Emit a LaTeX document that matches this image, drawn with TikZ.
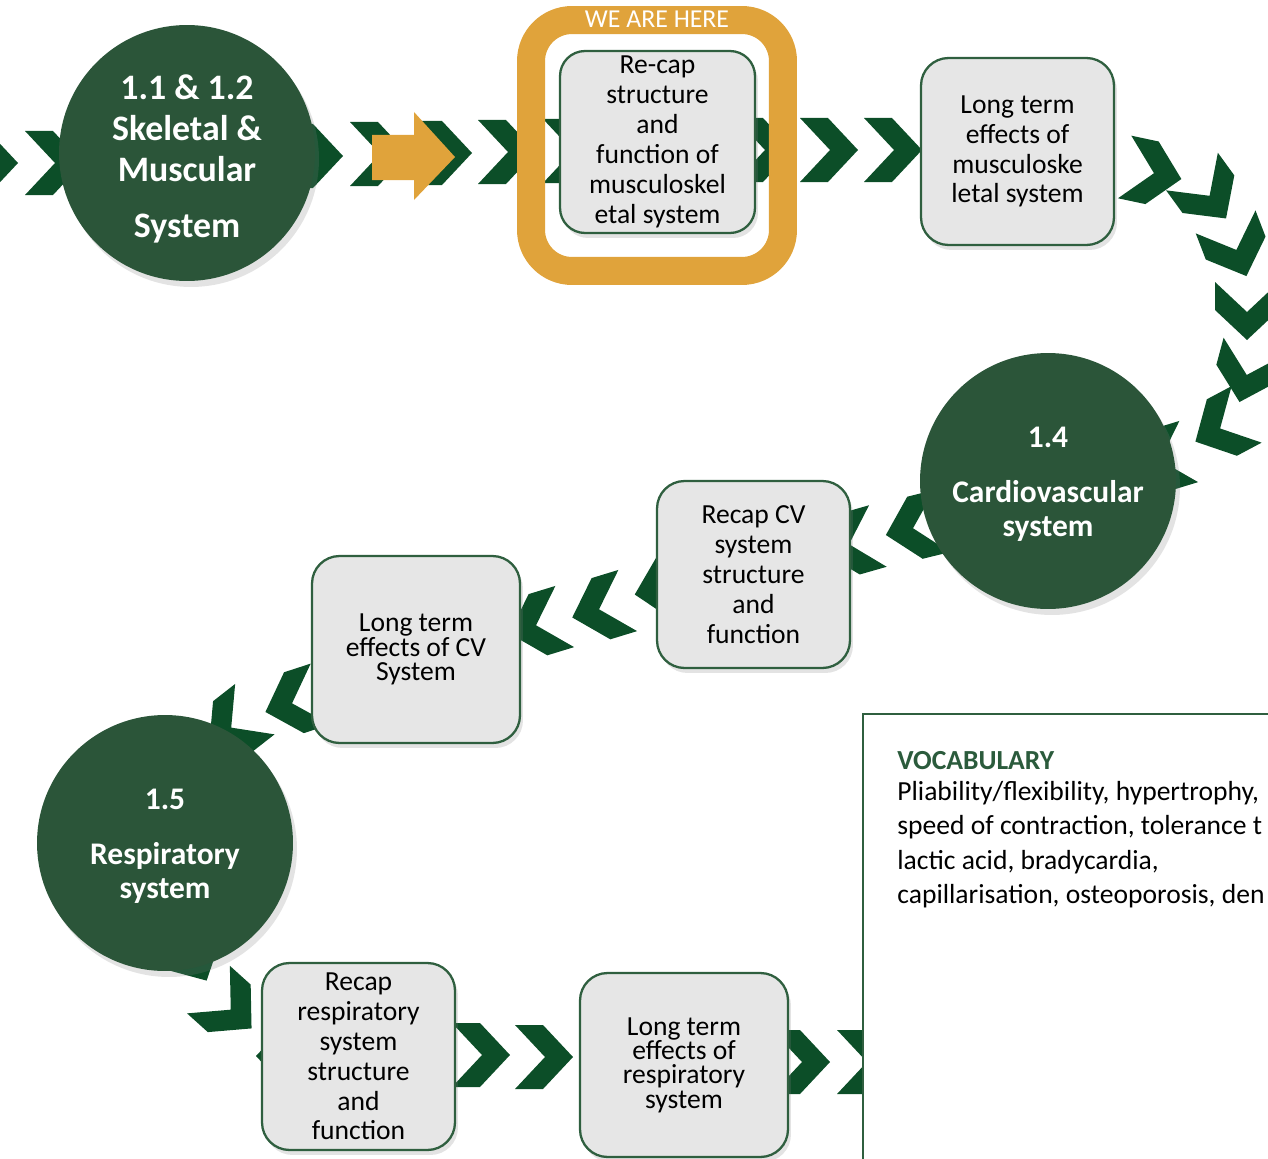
\documentclass[tikz,border=0pt]{standalone}
\usepackage{fontspec}
\setmainfont{Carlito}
\usetikzlibrary{shadows}
\definecolor{chevc}{HTML}{0C4E28}
\definecolor{circc}{HTML}{2B5539}
\definecolor{boxf}{HTML}{E6E6E6}
\definecolor{boxd}{HTML}{2F5F3F}
\definecolor{orng}{HTML}{E0A33B}
\definecolor{vocg}{HTML}{2B5B3C}
\newcommand{\chv}[3]{\fill[chevc,shift={(#1,#2)},rotate=#3] (-29,32)--(-1,32)--(29,0)--(-1,-32)--(-29,-32)--(1,0)--cycle;}
\tikzset{
  stage/.style={circle, fill=circc, minimum size=5.12cm, inner sep=0pt,
    drop shadow={opacity=0.22, shadow xshift=0.08cm, shadow yshift=-0.12cm}},
  stagetext/.style={text=white, inner sep=0pt, align=center,
    font=\bfseries\fontsize{17.9}{19.3}\selectfont},
  topic/.style={rounded corners=0.55cm, fill=boxf, draw=boxd, line width=1.3pt, align=center,
    inner sep=0pt, font=\fontsize{15.7}{17}\selectfont,
    drop shadow={opacity=0.22, shadow xshift=0.06cm, shadow yshift=-0.1cm}},
  tight/.style={font=\fontsize{15.7}{13.9}\selectfont},
  herebox/.style={draw=orng, line width=0.56cm, rounded corners=0.82cm, inner sep=0pt},
}
\begin{document}
\begin{tikzpicture}[x=0.02cm,y=-0.02cm]
\useasboundingbox (0,0) rectangle (1268,1159);
\clip (0,0) rectangle (1268,1159);
% top row chevrons
\chv{-11}{163}{0}
\chv{54}{163}{0}
\chv{314}{156}{0}
\chv{379}{154}{0}
\chv{443}{153}{0}
\chv{507}{152}{0}
\chv{572}{151}{0}
\chv{764}{150}{0}
\chv{829}{150}{0}
\chv{893}{150}{0}
% right curve
\chv{1153}{173}{-12}
\chv{1209}{195}{-54}
\chv{1236}{249}{-69}
\chv{1247}{311}{-90}
\chv{1247}{374}{-105}
\chv{1221}{428}{208}
\chv{1161}{460}{197}
% middle row
\chv{914}{528}{194}
\chv{850}{544}{196}
\chv{663}{588}{193}
\chv{600}{609}{197}
\chv{537}{625}{197}
\chv{293}{703}{198}
\chv{232}{727}{218}
% bottom
\chv{193}{955}{-62}
\chv{230}{1009}{-42}
\chv{285}{1056}{180}
\chv{481}{1055}{0}
\chv{544}{1057}{0}
\chv{801}{1062}{0}
\chv{866}{1062}{0}
% orange arrow
\fill[orng] (372,135)--(414,135)--(414,112)--(455,157)--(414,200)--(414,180)--(372,180)--cycle;
% circles
\node[stage] (c1) at (187,153) {};
\node[stagetext, font=\bfseries\fontsize{20.4}{23.2}\selectfont] (c1t) at (187,159) {1.1 \& 1.2\\Skeletal \&\\Muscular\\[9pt]System};
\node[stage] (c4) at (1048,481) {};
\node[stagetext] (c4t) at (1048,484) {1.4\\[12pt]Cardiovascular\\system};
\node[stage] (c5) at (165,843) {};
\node[stagetext] (c5t) at (165,846) {1.5\\[12pt]Respiratory\\system};
% we are here frame
\node[herebox, minimum width=5.04cm, minimum height=5.02cm] (frame) at (657,145.5) {};
\node[text=white, font=\fontsize{14.7}{16}\selectfont, inner sep=0pt] (here) at (657,19) {WE ARE HERE};
% boxes
\node[topic, rounded corners=0.5cm, minimum width=3.9cm, minimum height=3.64cm] (b1) at (657.5,142) {Re-cap\\structure\\and\\function of\\musculoskel\\etal system};
\node[topic, minimum width=3.86cm, minimum height=3.74cm] (b2) at (1017.5,151.5) {Long term\\effects of\\musculoske\\letal system};
\node[topic, minimum width=3.86cm, minimum height=3.74cm] (b3) at (753.5,574.5) {Recap CV\\system\\structure\\and\\function};
\node[topic, tight, minimum width=4.16cm, minimum height=3.74cm] (b4) at (416,649.5) {Long term\\effects of CV\\System};
\node[topic, minimum width=3.86cm, minimum height=3.74cm] (b5) at (358.5,1056.5) {Recap\\respiratory\\system\\structure\\and\\function};
\node[topic, tight, minimum width=4.16cm, minimum height=3.68cm] (b6) at (684,1065) {Long term\\effects of\\respiratory\\system};
% vocabulary
\node[draw=boxd, fill=white, line width=1.3pt, anchor=north west, minimum width=9cm, minimum height=9.5cm, inner sep=0pt] (vbox) at (862,713) {};
\node[anchor=north west, inner sep=0pt, align=left, font=\fontsize{15.7}{19.4}\selectfont] (vocab) at (897,751)
  {\textcolor{vocg}{\bfseries VOCABULARY}\\[-1.5pt]Pliability/flexibility, hypertrophy,\\speed of contraction, tolerance t\\lactic acid, bradycardia,\\capillarisation, osteoporosis, den};
\end{tikzpicture}
\end{document}
